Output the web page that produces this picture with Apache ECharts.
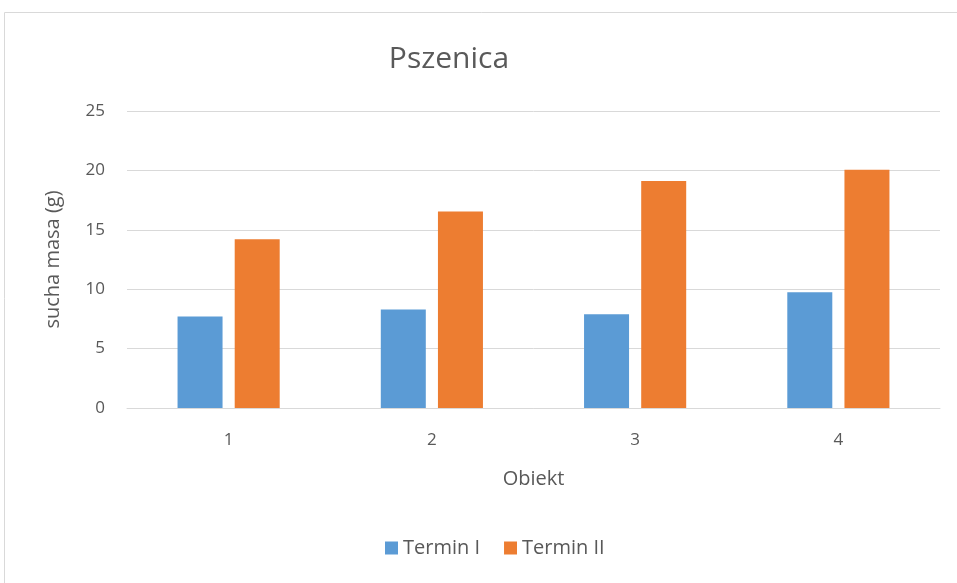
<!DOCTYPE html>
<html>
<head>
<meta charset="utf-8">
<script src="https://cdn.jsdelivr.net/npm/echarts@6/dist/echarts.min.js"></script>
<style>
  html, body { margin: 0; padding: 0; background: #fff; }
  #chart { width: 957px; height: 583px; }
</style>
</head>
<body>
<div id="chart"></div>
<script>
const categories = ['1', '2', '3', '4'];
const terminI = [7.7, 8.3, 7.9, 9.75];
const terminII = [14.2, 16.55, 19.1, 20.05];
const seriesNames = ['Termin I', 'Termin II'];

const textColor = '#595959';
const fontFamily = '"Open Sans", "Liberation Sans", sans-serif';

let myChart = echarts.init(document.getElementById('chart'), null, { renderer: 'canvas' });

option = {
    animation: false,
    textStyle: { fontFamily: fontFamily },
    graphic: [
        {
            type: 'rect',
            shape: { x: 4.5, y: 12.5, width: 960, height: 580 },
            style: { fill: 'none', stroke: '#d9d9d9', lineWidth: 1 }
        }
    ],
    title: {
        text: 'Pszenica',
        left: 444,
        top: 39,
        textAlign: 'center',
        textStyle: { color: textColor, fontSize: 30, fontWeight: 'normal', fontFamily: fontFamily }
    },
    legend: {
        bottom: 20,
        left: 380,
        itemWidth: 13,
        itemHeight: 13,
        itemGap: 24,
        icon: 'rect',
        textStyle: { color: textColor, fontSize: 20 }
    },
    grid: {
        left: 127,
        right: 17,
        top: 111,
        bottom: 175
    },
    xAxis: {
        type: 'category',
        data: categories,
        name: 'Obiekt',
        nameLocation: 'middle',
        nameGap: 61,
        nameTextStyle: { color: textColor, fontSize: 20 },
        axisLine: { lineStyle: { color: '#d9d9d9' } },
        axisTick: { show: false },
        axisLabel: { color: textColor, fontSize: 17, margin: 24 }
    },
    yAxis: {
        type: 'value',
        min: 0,
        max: 25,
        interval: 5,
        name: 'sucha masa (g)',
        nameLocation: 'middle',
        nameGap: 64,
        nameRotate: 90,
        nameTextStyle: { color: textColor, fontSize: 20 },
        axisLine: { show: false },
        axisTick: { show: false },
        axisLabel: { color: textColor, fontSize: 17, margin: 22 },
        splitLine: { lineStyle: { color: '#d9d9d9' } }
    },
    series: [
        {
            name: seriesNames[0],
            type: 'bar',
            data: terminI,
            barWidth: 45,
            barGap: '27%',
            itemStyle: { color: '#5b9bd5' }
        },
        {
            name: seriesNames[1],
            type: 'bar',
            data: terminII,
            barWidth: 45,
            barGap: '27%',
            itemStyle: { color: '#ed7d31' }
        }
    ]
};

myChart.setOption(option);
</script>
</body>
</html>
